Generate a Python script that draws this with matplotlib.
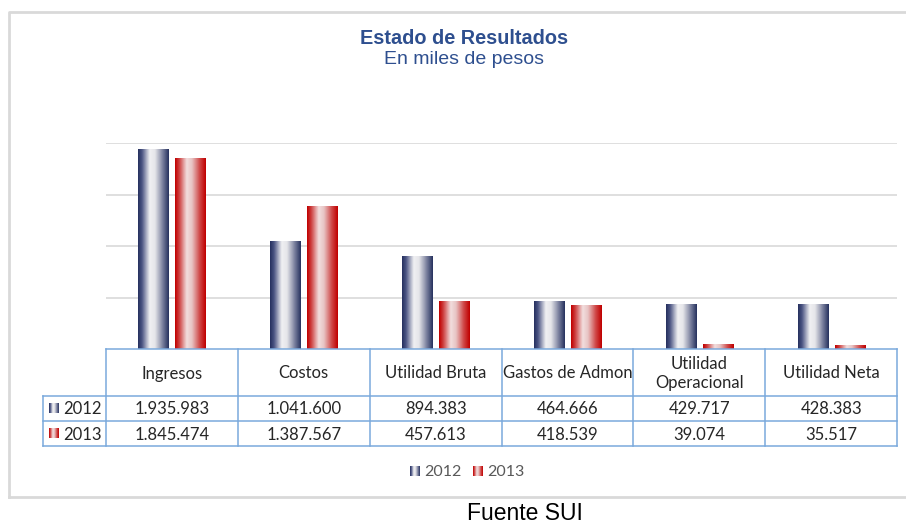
import numpy as np
import matplotlib
matplotlib.use("Agg")
import matplotlib.pyplot as plt
from matplotlib.colors import LinearSegmentedColormap

# ---- data ----
categories = ["Ingresos", "Costos", "Utilidad Bruta", "Gastos de Admon",
              "Utilidad\nOperacional", "Utilidad Neta"]
series_names = ["2012", "2013"]
values_2012 = [1935983, 1041600, 894383, 464666, 429717, 428383]
values_2013 = [1845474, 1387567, 457613, 418539, 39074, 35517]
title = "Estado de Resultados"
subtitle = "En miles de pesos"
source = "Fuente SUI"

def fmt(v):
    return f"{v:,}".replace(",", ".")

W, H = 906, 525
fig = plt.figure(figsize=(W / 100, H / 100), dpi=100)
fig.patch.set_facecolor("white")

# pixel geometry
px_left, px_right, px_base, px_top = 106, 897, 349, 143
ax = fig.add_axes([px_left / W, (H - px_base) / H,
                   (px_right - px_left) / W, (px_base - px_top) / H])
ax.set_xlim(-0.5, len(categories) - 0.5)
ax.set_ylim(0, 2000000)
ax.set_yticks([500000, 1000000, 1500000, 2000000])
ax.yaxis.grid(True, color="#dcdcdc", linewidth=1.3)
ax.set_axisbelow(True)
for s in ax.spines.values():
    s.set_visible(False)
ax.tick_params(left=False, bottom=False, labelleft=False, labelbottom=False)

navy_cmap = LinearSegmentedColormap.from_list("navy", [
    (0.0, "#26315f"), (0.12, "#4a5382"), (0.38, "#f0f0f2"),
    (0.55, "#e6e6ea"), (0.8, "#7c829f"), (1.0, "#27325f")])
red_cmap = LinearSegmentedColormap.from_list("red", [
    (0.0, "#c00000"), (0.12, "#cc3a3a"), (0.38, "#f2dede"),
    (0.55, "#e8c4c4"), (0.8, "#d04a4a"), (1.0, "#c00000")])
cmaps = [navy_cmap, red_cmap]

x = np.arange(len(categories))
bw = 0.228
gap = 0.053
grad = np.linspace(0, 1, 64).reshape(1, -1)
for k, vals in enumerate([values_2012, values_2013]):
    offs = (k - 0.5) * (bw + gap)
    bars = ax.bar(x + offs, vals, width=bw, color="none", zorder=2)
    for r in bars:
        x0, y0, w, h = r.get_x(), r.get_y(), r.get_width(), r.get_height()
        ax.imshow(grad, cmap=cmaps[k], aspect="auto",
                  extent=(x0, x0 + w, y0, y0 + h), zorder=3,
                  interpolation="bilinear")
ax.set_xlim(-0.5, len(categories) - 0.5)
ax.set_ylim(0, 2000000)

# ---- overlay in pixel coordinates ----
ov = fig.add_axes([0, 0, 1, 1], zorder=5)
ov.set_xlim(0, W)
ov.set_ylim(H, 0)
ov.axis("off")
ov.patch.set_alpha(0)

# outer border
ov.plot([9, 9, W + 5], [497, 12, 12], color="#d9d9d9", lw=2)
ov.plot([9, W + 5], [497, 497], color="#d9d9d9", lw=2)

# title
ov.text(464, 38, title, ha="center", va="center", fontsize=14.3,
        fontweight="bold", color="#2e4f8f", family="Liberation Sans")
ov.text(464, 59, subtitle, ha="center", va="center", fontsize=14,
        color="#2e4f8f", family="Liberation Sans")

# table
tc = "#7aa9dc"
colw = (px_right - px_left) / len(categories)
r0, r1, r2, r3 = px_base, 396, 421, 446
hdr_left = 43
lw = 1.1
ov.plot([px_left, px_right], [r0, r0], color=tc, lw=lw)
for yy in (r1, r2, r3):
    ov.plot([hdr_left, px_right], [yy, yy], color=tc, lw=lw)
ov.plot([hdr_left, hdr_left], [r1, r3], color=tc, lw=lw)
for i in range(len(categories) + 1):
    xx = px_left + i * colw
    ov.plot([xx, xx], [r0, r3], color=tc, lw=lw)

tfont = dict(family="Lato", fontsize=12, color="#262626")
for i, c in enumerate(categories):
    cx = px_left + (i + 0.5) * colw
    ov.text(cx, (r0 + r1) / 2 + 1, c, ha="center", va="center",
            linespacing=1.2, **tfont)
    ov.text(cx, (r1 + r2) / 2 + 1, fmt(values_2012[i]), ha="center",
            va="center", **tfont)
    ov.text(cx, (r2 + r3) / 2 + 1, fmt(values_2013[i]), ha="center",
            va="center", **tfont)

def key(xk, yk, k):
    ov.imshow(grad, cmap=cmaps[k], aspect="auto",
              extent=(xk, xk + 10, yk + 5, yk - 5),
              interpolation="bilinear", zorder=6)

for k, name in enumerate(series_names):
    yy = [(r1 + r2) / 2, (r2 + r3) / 2][k]
    key(49, yy, k)
    ov.text(63, yy + 1, name, ha="left", va="center", **tfont)

# legend
lx = [410, 473]
for k, name in enumerate(series_names):
    key(lx[k], 471, k)
    ov.text(lx[k] + 14, 472, name, ha="left", va="center", family="Lato",
            fontsize=11.5, color="#595959")
ov.set_xlim(0, W)
ov.set_ylim(H, 0)

# source
ov.text(525, 513, source, ha="center", va="center", fontsize=16.5,
        color="black", family="Liberation Sans")

fig.savefig("out.png", dpi=100)
